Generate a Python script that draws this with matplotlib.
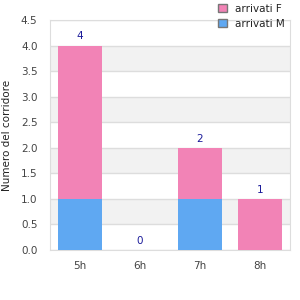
import matplotlib.pyplot as plt
from matplotlib.patches import Patch
import numpy as np

ore = ["5h", "6h", "7h", "8h"]
arrivati_m = [1, 0, 1, 0]
arrivati_f = [3, 0, 1, 1]
totali = [4, 0, 2, 1]

col_f = "#f283b6"
col_m = "#5fa8f2"
grigio = "#444444"

fig = plt.figure(figsize=(3, 3), dpi=100)
ax = fig.add_axes([50/300, 50/300, 240/300, 230/300])

x = np.arange(len(ore))
ax.bar(x, arrivati_m, width=0.72, color=col_m, zorder=3)
ax.bar(x, arrivati_f, width=0.72, bottom=arrivati_m, color=col_f, zorder=3)
for xi, t in zip(x, totali):
    ax.text(xi, t + 0.08, str(t), ha="center", va="bottom", fontsize=7.5, color="#1a1a99", zorder=4)

ax.set_xlim(-0.5, 3.5)
ax.set_ylim(0, 4.5)
ax.set_yticks(np.arange(0, 4.51, 0.5))
ax.set_yticklabels([f"{v:.1f}" for v in np.arange(0, 4.51, 0.5)])
ax.set_xticks(x)
ax.set_xticklabels(ore)
for lo in [0.5, 1.5, 2.5, 3.5]:
    ax.axhspan(lo, lo + 0.5, color="#f2f2f2", zorder=0, lw=0)
ax.grid(axis="y", color="#dddddd", lw=1, zorder=1)
for s in ax.spines.values():
    s.set_color("#dddddd")
ax.tick_params(length=0, labelsize=7.5, colors=grigio, pad=8)
ax.tick_params(axis="y", pad=9)
ax.set_ylabel("Numero del corridore", fontsize=7.5, color="#222222")
ax.yaxis.set_label_coords(-38/240, 0.5)

handles = [Patch(facecolor=col_f, edgecolor="#777777", label="arrivati F"),
           Patch(facecolor=col_m, edgecolor="#777777", label="arrivati M")]
fig.legend(handles=handles, loc="upper left", bbox_to_anchor=(211/300, 1.012), frameon=False,
           fontsize=7.5, handlelength=0.85, handleheight=0.85, handletextpad=0.8, labelspacing=0.5,
           labelcolor="#222222", borderpad=0.2)

fig.savefig("out.png", dpi=100)
